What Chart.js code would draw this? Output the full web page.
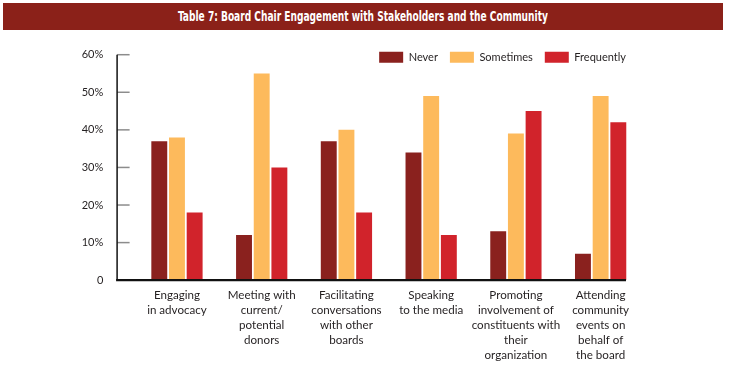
<!DOCTYPE html>
<html>
<head>
<meta charset="utf-8">
<script src="https://cdn.jsdelivr.net/npm/chart.js@4"></script>
<style>
  html, body { margin: 0; padding: 0; background: #fff; }
  #wrap { position: relative; width: 731px; height: 383px; }
  #title {
    position: absolute; left: 3px; top: 3px; width: 720px; height: 27px;
    background: #8b2119; color: #fff; text-align: center;
    font: bold 14px "DejaVu Sans Condensed", "Liberation Sans", sans-serif;
    font-stretch: condensed; line-height: 27px; white-space: nowrap; overflow: hidden;
  }
  #title span { display: inline-block; transform-origin: center; }
</style>
</head>
<body>
<div id="wrap">
  <canvas id="engagement" width="731" height="383"></canvas>
  <div id="title"><span>Table 7: Board Chair Engagement with Stakeholders and the Community</span></div>
</div>
<script>
const categories = [
  ["Engaging", "in advocacy"],
  ["Meeting with", "current/", "potential", "donors"],
  ["Facilitating", "conversations", "with other", "boards"],
  ["Speaking", "to the media"],
  ["Promoting", "involvement of", "constituents with", "their", "organization"],
  ["Attending", "community", "events on", "behalf of", "the board"]
];
const never = [37, 12, 37, 34, 13, 7];
const sometimes = [38, 55, 40, 49, 39, 49];
const frequently = [18, 30, 18, 12, 45, 42];
const yTicks = [0, 10, 20, 30, 40, 50, 60];

// squeeze title text to the width of the condensed original
const span = document.querySelector("#title span");
span.style.transform = "scaleX(" + (370 / span.offsetWidth) + ")";

Chart.defaults.font.family = "Lato, 'Open Sans', sans-serif";
Chart.defaults.color = "#231f20";

// hand-drawn axes: y line sits left of the first band, baseline is thick
const axesPlugin = {
  id: "axes",
  afterDatasetsDraw(chart) {
    const { ctx, chartArea } = chart;
    const y = chart.scales.y;
    const x0 = chartArea.left - 17.5;
    ctx.save();
    ctx.strokeStyle = "#8c8c8c";
    ctx.lineWidth = 1.5;
    yTicks.forEach((v) => {
      const py = y.getPixelForValue(v);
      ctx.beginPath();
      ctx.moveTo(x0, py);
      ctx.lineTo(x0 + 12.5, py);
      ctx.stroke();
    });
    ctx.strokeStyle = "#111";
    ctx.beginPath();
    ctx.moveTo(x0, y.getPixelForValue(60));
    ctx.lineTo(x0, chartArea.bottom);
    ctx.stroke();
    ctx.lineWidth = 2.2;
    ctx.beginPath();
    ctx.moveTo(x0 - 1, chartArea.bottom);
    ctx.lineTo(chartArea.right - 17, chartArea.bottom);
    ctx.stroke();
    ctx.restore();
  }
};

// top legend takes no layout room, then sits up by the 60% line
const legendNudge = {
  id: "legendNudge",
  afterInit(chart) {
    const l = chart.legend;
    const fit = l.fit;
    l.fit = function () { fit.call(this); this.height = 0; };
  },
  afterLayout(chart) {
    const l = chart.legend;
    l.top -= 15;
    l.bottom = l.top + 30;
    l.left -= 5; l.right -= 5;
  }
};

new Chart(document.getElementById("engagement"), {
  type: "bar",
  data: {
    labels: categories,
    datasets: [
      { label: "Never", data: never, backgroundColor: "#8a211e" },
      { label: "Sometimes", data: sometimes, backgroundColor: "#fdba5c" },
      { label: "Frequently", data: frequently, backgroundColor: "#d1232b" }
    ]
  },
  options: {
    responsive: false,
    animation: false,
    layout: { padding: { top: 54.7, right: 88, bottom: 12, left: 0 } },
    datasets: { bar: { categoryPercentage: 0.626, barPercentage: 0.9 } },
    plugins: {
      legend: {
        position: "top",
        align: "end",
        labels: {
          boxWidth: 24, boxHeight: 11, padding: 12,
          font: { size: 11 }
        }
      },
      tooltip: { enabled: false }
    },
    scales: {
      x: {
        grid: { display: false, drawTicks: false },
        border: { display: false },
        ticks: { padding: 8, font: { size: 11.6, lineHeight: 1.29 }, maxRotation: 0, autoSkip: false }
      },
      y: {
        min: 0, max: 60,
        grid: { display: false, drawTicks: false },
        border: { display: false },
        afterFit(scale) { scale.width = 134.6; },
        afterBuildTicks(scale) { scale.ticks = yTicks.map((v) => ({ value: v })); },
        ticks: {
          padding: 31.3,
          font: { size: 11 },
          callback: (v) => (v === 0 ? "0" : v + "%")
        }
      }
    }
  },
  plugins: [axesPlugin, legendNudge]
});
</script>
</body>
</html>
